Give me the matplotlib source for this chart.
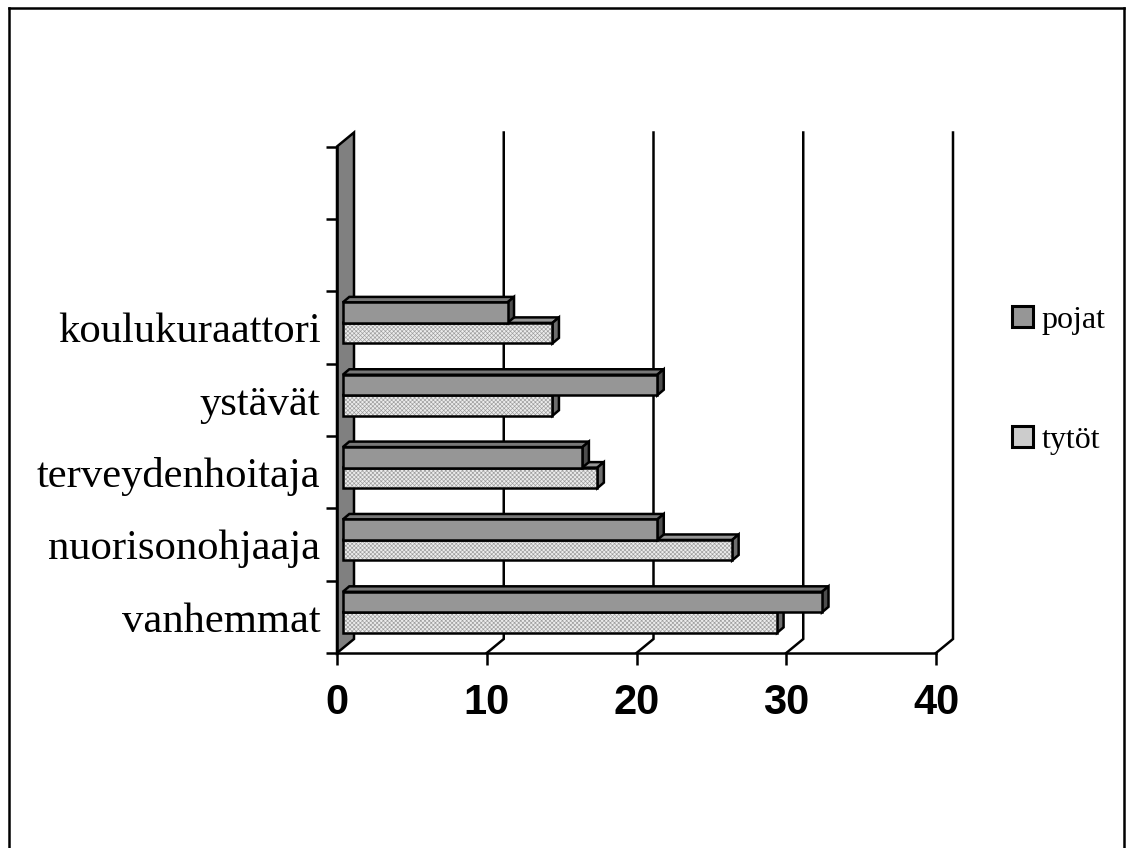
import matplotlib
matplotlib.use("Agg")
import matplotlib.pyplot as plt
from matplotlib.patches import Patch, Polygon, Rectangle
from matplotlib.lines import Line2D

categories = ["vanhemmat", "nuorisonohjaaja", "terveydenhoitaja", "ystävät", "koulukuraattori", "", ""]
pojat = [32, 21, 16, 21, 11]
tytot = [29, 26, 17, 14, 14]
x_ticks = [0, 10, 20, 30, 40]

W, H = 1126, 848
L, R, T, B = 337, 936, 146.5, 653
LW = 1.8
plt.rcParams["hatch.linewidth"] = 0.45
fig = plt.figure(figsize=(W / 100, H / 100), dpi=100, facecolor="white")
ax = fig.add_axes([L / W, 1 - B / H, (R - L) / W, (B - T) / H])
ax.set_xlim(0, 40)
ax.set_ylim(0, 7)
ax.patch.set_visible(False)
ux = (R - L) / 40
uy = (B - T) / 7

# depth in data units
WX, WY = 17 / ux, 14 / uy     # wall / floor depth
SX, SY = 5.8 / ux, 4.5 / uy   # bar start offset
BX, BY = 6.5 / ux, 5.5 / uy   # bar depth
BH = 20.5 / uy

for s in ("top", "right"):
    ax.spines[s].set_visible(False)
for s in ("left", "bottom"):
    ax.spines[s].set_linewidth(LW)
    ax.spines[s].set_zorder(5)

# wall
ax.add_patch(Polygon([(0, 0), (WX, WY), (WX, 7 + WY), (0, 7)], closed=True, fc="#808080",
                     ec="black", lw=LW, zorder=1, clip_on=False))
# gridlines on the back wall and floor diagonals
for v in x_ticks[1:]:
    ax.plot([v, v + WX, v + WX], [0, WY, 7 + WY], color="black", lw=LW, zorder=1, clip_on=False,
            solid_joinstyle="miter")


def stippled(patch_cls, *args, fc, z, stipple):
    """Fill (optionally with a fine dither) and then outline one face."""
    ax.add_patch(patch_cls(*args, fc=fc, ec=stipple or fc, hatch="xxxxxxxx" if stipple else None,
                           lw=0, zorder=z, clip_on=False))
    ax.add_patch(patch_cls(*args, fc="none", ec="black", lw=LW, zorder=z, clip_on=False))


def draw_bars(values, offset, face, top, side, z, stipple=None):
    ys = [i + 0.5 + offset + SY for i in range(len(values))]
    for v, y in zip(values, ys):
        x0, x1 = SX, v + SX
        y0, y1 = y - BH / 2, y + BH / 2
        stippled(Polygon, [(x0, y1), (x0 + BX, y1 + BY), (x1 + BX, y1 + BY), (x1, y1)], fc=top, z=z, stipple=None)
        stippled(Polygon, [(x1, y0), (x1 + BX, y0 + BY), (x1 + BX, y1 + BY), (x1, y1)], fc=side, z=z, stipple=None)
        stippled(Rectangle, (x0, y0), v, BH, fc=face, z=z, stipple=stipple)


FACE_P, TOP_P, SIDE_P = "#969696", "#787878", "#4d4d4d"
FACE_T, TOP_T, SIDE_T = "#ececec", "#969696", "#6e6e6e"
STIP = "#9c9c9c"
draw_bars(tytot, -BH / 2, FACE_T, TOP_T, SIDE_T, 3, stipple=STIP)
draw_bars(pojat, BH / 2, FACE_P, TOP_P, SIDE_P, 4)

# axes ticks and labels
ax.set_xticks(x_ticks)
ax.set_xticklabels([str(v) for v in x_ticks], family="Liberation Sans", fontweight="bold", fontsize=30)
ax.tick_params(axis="x", length=8.6, width=LW, pad=13)
ax.set_yticks(range(8))
ax.set_yticklabels([])
ax.tick_params(axis="y", which="major", length=8, width=LW)
ax.set_yticks([i + 0.5 for i in range(7)], minor=True)
ax.set_yticklabels(categories, minor=True, family="Liberation Serif", fontsize=30.7)
ax.tick_params(axis="y", which="minor", length=0, pad=12)

# legend
handles = [Patch(fc=FACE_P, ec="black", lw=2.2),
           Patch(fc="#cccccc", ec="black", lw=2.2)]
leg = ax.legend(handles, ["pojat", "tytöt"], loc="upper left",
                bbox_to_anchor=(1012 / W, 1 - 306 / H), bbox_transform=fig.transFigure,
                frameon=False, prop={"family": "Liberation Serif", "size": 23},
                handlelength=0.65, handleheight=0.65, handletextpad=0.28,
                labelspacing=2.85, borderpad=0, borderaxespad=0)

# outer frame
for xs, ys in (([9, 9], [848, 7.5]), ([9, 1124], [7.5, 7.5]), ([1124, 1124], [7.5, 848])):
    fig.add_artist(Line2D([x / W for x in xs], [1 - y / H for y in ys], color="black", lw=LW))

fig.savefig("out.png", dpi=100, facecolor="white")
